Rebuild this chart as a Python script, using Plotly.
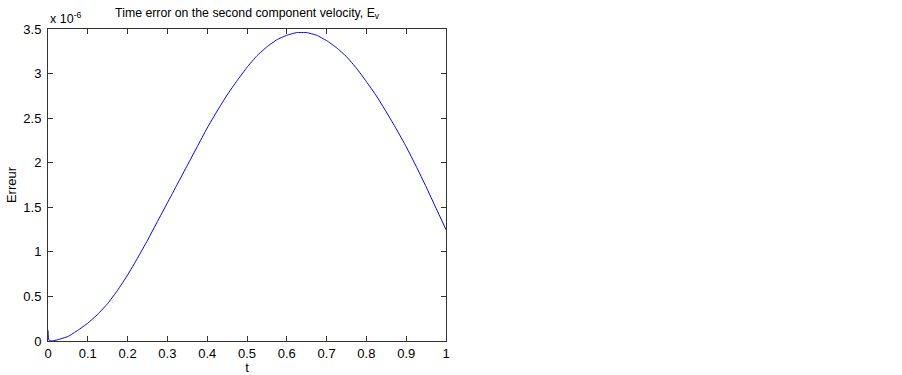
import plotly.graph_objects as go

t = [0.0, 0.002, 0.01, 0.025, 0.05, 0.075, 0.1, 0.125, 0.15, 0.175, 0.2, 0.225, 0.25,
     0.275, 0.3, 0.325, 0.35, 0.375, 0.4, 0.425, 0.45, 0.475, 0.5, 0.525, 0.55,
     0.575, 0.6, 0.625, 0.65, 0.675, 0.7, 0.725, 0.75, 0.775, 0.8, 0.825, 0.85,
     0.875, 0.9, 0.925, 0.95, 0.975, 1.0]
err_e6 = [0.12, 0.01, 0.0, 0.015, 0.05, 0.12, 0.20, 0.30, 0.42, 0.57, 0.74, 0.93, 1.13,
          1.34, 1.55, 1.76, 1.97, 2.18, 2.39, 2.58, 2.76, 2.92, 3.07, 3.20, 3.30,
          3.38, 3.43, 3.46, 3.46, 3.43, 3.37, 3.29, 3.19, 3.06, 2.91, 2.75, 2.57,
          2.38, 2.18, 1.96, 1.73, 1.49, 1.25]
xticks = [0, 0.1, 0.2, 0.3, 0.4, 0.5, 0.6, 0.7, 0.8, 0.9, 1]
xtick_text = ["0", "0.1", "0.2", "0.3", "0.4", "0.5", "0.6", "0.7", "0.8", "0.9", "1"]
yticks = [0, 0.5, 1, 1.5, 2, 2.5, 3, 3.5]
ytick_text = ["0", "0.5", "1", "1.5", "2", "2.5", "3", "3.5"]

FONT = "Liberation Sans, Arial, Helvetica"

fig = go.Figure()
fig.add_trace(go.Scatter(x=t, y=err_e6, mode="lines",
                         line=dict(color="#0000ff", width=1, shape="spline", smoothing=0.3),
                         showlegend=False))

axis_common = dict(showgrid=False, zeroline=False, showline=True, linecolor="#333333",
                   linewidth=1, mirror="ticks", ticks="inside", ticklen=5,
                   tickcolor="#333333", automargin=False,
                   tickfont=dict(family=FONT, size=13, color="#000"))
fig.update_xaxes(range=[0, 1], tickvals=xticks, ticktext=xtick_text,
                 title=dict(text="t", font=dict(family=FONT, size=13, color="#000"), standoff=0),
                 **axis_common)
fig.update_yaxes(range=[0, 3.5], tickvals=yticks, ticktext=ytick_text, ticklabelstandoff=3,
                 title=dict(text="Erreur", font=dict(family=FONT, size=13, color="#000"), standoff=3),
                 **axis_common)

fig.update_layout(
    width=902, height=375,
    margin=dict(l=48, r=456, t=29, b=34),
    paper_bgcolor="white", plot_bgcolor="white",
    title=dict(text="Time error on the second component velocity, E<sub>v</sub>",
               x=0.274, xanchor="center", y=0.978, yanchor="top",
               font=dict(family=FONT, size=12.3, color="#000")),
    annotations=[dict(text="x 10<sup>-6</sup>", xref="paper", yref="paper",
                      x=0.0, y=1.0, xanchor="left", yanchor="bottom", yshift=1,
                      showarrow=False,
                      font=dict(family=FONT, size=12.5, color="#000"))],
)

fig.write_html("out.html", config={"displayModeBar": False},
               post_script="document.body.style.margin='0';")
